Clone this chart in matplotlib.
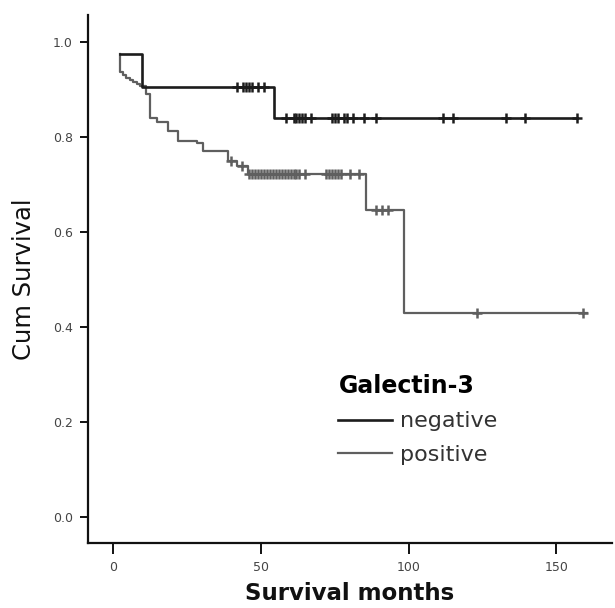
import numpy as np
import matplotlib.pyplot as plt

# Kaplan-Meier steps (months, cumulative survival)
neg_times = [2.3, 9.7, 54.4, 157]
neg_surv = [0.975, 0.906, 0.84, 0.84]
neg_cens_t = [42, 44, 45, 46, 47, 49, 51,
              58.5, 61, 62, 63, 64, 65, 67, 74, 75, 76, 78, 79, 81, 85, 89,
              111.5, 115, 133, 139.5, 157]

pos_times = [2.3, 2.3, 3.3, 4.3, 5.6, 6.7, 8, 9, 11, 12.5, 14.8, 18.5, 21.9,
             28.4, 30.4, 38.8, 42, 45.5, 85.5, 98.5, 160.4]
pos_surv = [0.975, 0.937, 0.931, 0.924, 0.92, 0.916, 0.912, 0.907, 0.89, 0.84,
            0.832, 0.813, 0.791, 0.787, 0.77, 0.75, 0.74, 0.722, 0.646, 0.43, 0.43]
pos_cens_t = [40, 43.5, 46, 47, 48, 49, 50, 51, 52, 53, 54, 55, 56, 57, 58, 59,
              60, 61, 62, 63, 65, 72, 73, 74, 75, 76, 77, 80, 83,
              89, 91, 93, 123, 159]


def surv_at(t, times, surv):
    i = np.searchsorted(times, t, side='right') - 1
    return surv[max(i, 0)]


neg_col = '#1c1c1c'
pos_col = '#5f5f5f'

fig = plt.figure(figsize=(6.15, 6.08), dpi=100)
ax = fig.add_axes([0.143, 0.107, 0.852, 0.868])

ax.step(pos_times, pos_surv, where='post', color=pos_col, lw=1.6, label='positive')
ax.step(neg_times, neg_surv, where='post', color=neg_col, lw=1.9, label='negative')

ax.plot(pos_cens_t, [surv_at(t, pos_times, pos_surv) for t in pos_cens_t],
        ls='none', marker='+', ms=7, mew=1.8, color=pos_col)
ax.plot(neg_cens_t, [surv_at(t, neg_times, neg_surv) for t in neg_cens_t],
        ls='none', marker='+', ms=7, mew=1.8, color=neg_col)

ax.set_xlim(-8.6, 168.8)
ax.set_ylim(-0.055, 1.057)
ax.set_xticks([0, 50, 100, 150])
ax.set_yticks([0.0, 0.2, 0.4, 0.6, 0.8, 1.0])
ax.set_yticklabels(['0.0', '0.2', '0.4', '0.6', '0.8', '1.0'])

for s in ['top', 'right']:
    ax.spines[s].set_visible(False)
for s in ['left', 'bottom']:
    ax.spines[s].set_linewidth(1.6)
    ax.spines[s].set_color('#111111')

ax.tick_params(axis='both', direction='out', width=1.4, colors='#111111',
               labelcolor='#444444', labelsize=9)
ax.tick_params(axis='x', length=8, pad=5)
ax.tick_params(axis='y', length=6, pad=5)

ax.set_xlabel('Survival months', fontsize=16.5, fontweight='bold', color='#111111', labelpad=6)
ax.set_ylabel('Cum Survival', fontsize=17.5, color='#111111', labelpad=12)

handles, labels = ax.get_legend_handles_labels()
leg = ax.legend(handles[::-1], labels[::-1], title='Galectin-3', frameon=False,
                loc='upper left', bbox_to_anchor=(0.44, 0.358), fontsize=16,
                handlelength=2.4, handletextpad=0.35, labelspacing=0.6,
                alignment='left')
leg.get_title().set_fontsize(17)
leg.get_title().set_fontweight('bold')
for t in leg.get_texts():
    t.set_color('#333333')

plt.savefig('out.png', dpi=100)
